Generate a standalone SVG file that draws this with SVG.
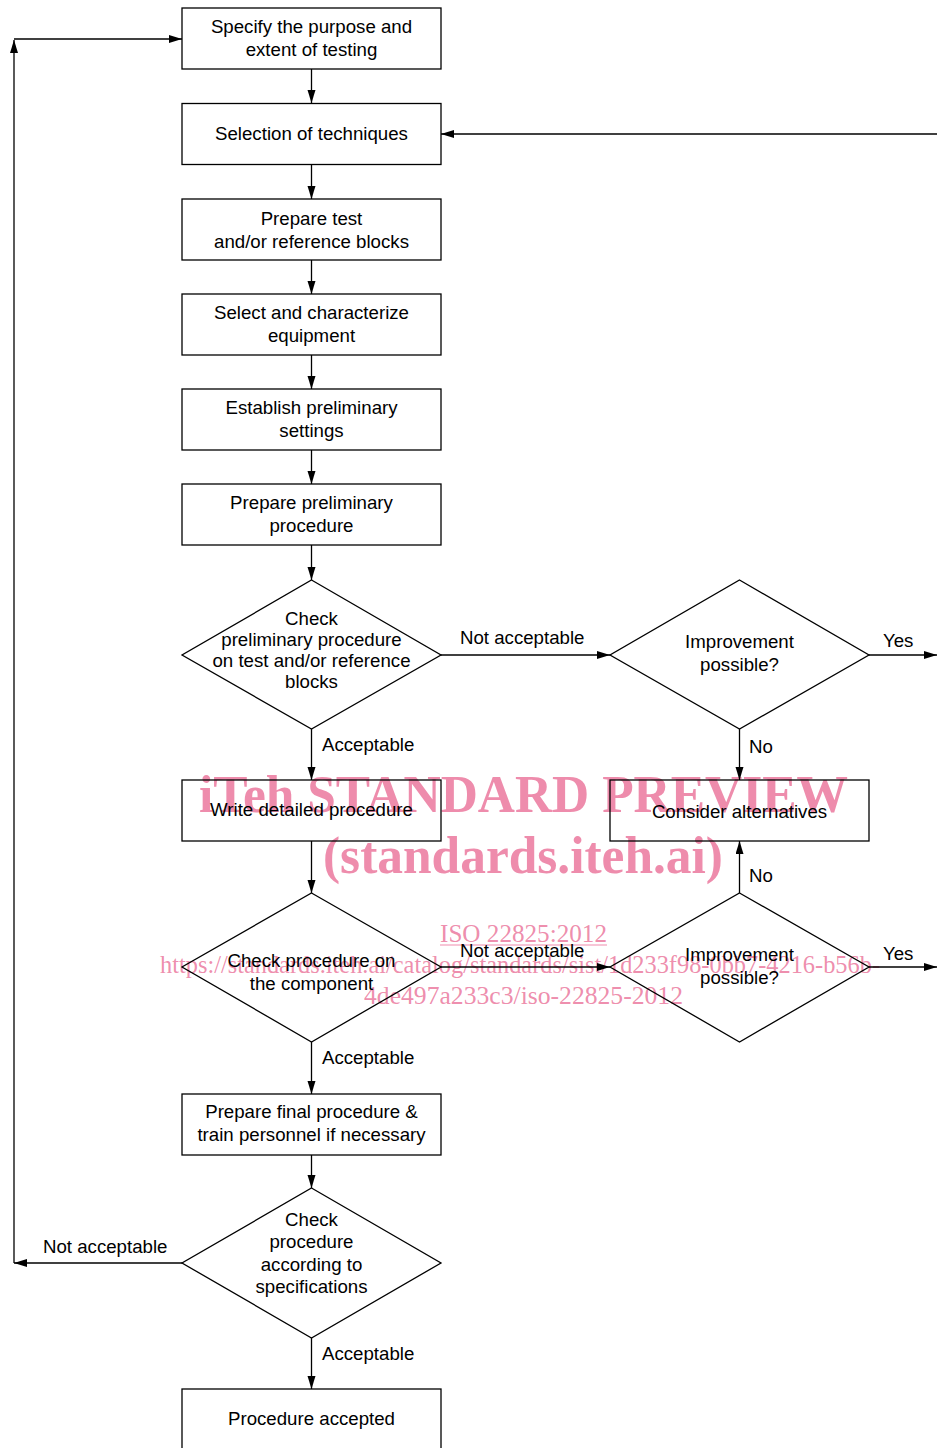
<svg xmlns="http://www.w3.org/2000/svg" width="937" height="1448" viewBox="0 0 937 1448">
<style>
.box{fill:none;stroke:#000;stroke-width:1.3}
.t{font-family:"Liberation Sans",Arial,sans-serif;font-size:18.67px;fill:#000;text-anchor:middle}
.l{font-family:"Liberation Sans",Arial,sans-serif;font-size:18.67px;fill:#000}
.c{fill:none;stroke:#000;stroke-width:1.3}
.wm{font-family:"Liberation Serif","Times New Roman",serif;fill:#ec7fa3;fill-opacity:0.9}
</style>
<defs>
<marker id="ah" markerUnits="userSpaceOnUse" markerWidth="14" markerHeight="9" refX="13" refY="4" orient="auto">
<path d="M0,0 L13,4 L0,8 z" fill="#000"/>
</marker>
</defs>
<rect width="937" height="1448" fill="#fff"/>
<g id="watermark">
<text class="wm" x="199" y="812" font-size="52" font-weight="bold" textLength="649" lengthAdjust="spacingAndGlyphs">iTeh STANDARD PREVIEW</text>
<text class="wm" x="323" y="873" font-size="52" font-weight="bold" textLength="400" lengthAdjust="spacingAndGlyphs">(standards.iteh.ai)</text>
<text class="wm" x="440" y="942" font-size="26" textLength="167" lengthAdjust="spacingAndGlyphs">ISO 22825:2012</text>
<line x1="440" y1="945" x2="607" y2="945" stroke="#ec7fa3" stroke-opacity="0.9" stroke-width="1.2"/>
<text class="wm" x="160" y="973" font-size="26" textLength="720" lengthAdjust="spacingAndGlyphs">https://standards.iteh.ai/catalog/standards/sist/1d233f98-0bb7-4216-b56b-</text>
<text class="wm" x="364" y="1004" font-size="26" textLength="319" lengthAdjust="spacingAndGlyphs">4de497a233c3/iso-22825-2012</text>
</g>
<g id="connectors">
<line class="c" x1="311.5" y1="69" x2="311.5" y2="103" marker-end="url(#ah)"/>
<line class="c" x1="311.5" y1="164" x2="311.5" y2="199" marker-end="url(#ah)"/>
<line class="c" x1="311.5" y1="260" x2="311.5" y2="294" marker-end="url(#ah)"/>
<line class="c" x1="311.5" y1="355" x2="311.5" y2="389" marker-end="url(#ah)"/>
<line class="c" x1="311.5" y1="450" x2="311.5" y2="484" marker-end="url(#ah)"/>
<line class="c" x1="311.5" y1="545" x2="311.5" y2="580" marker-end="url(#ah)"/>
<line class="c" x1="311.5" y1="729" x2="311.5" y2="780" marker-end="url(#ah)"/>
<line class="c" x1="311.5" y1="841" x2="311.5" y2="893" marker-end="url(#ah)"/>
<line class="c" x1="311.5" y1="1042" x2="311.5" y2="1094" marker-end="url(#ah)"/>
<line class="c" x1="311.5" y1="1155" x2="311.5" y2="1188" marker-end="url(#ah)"/>
<line class="c" x1="311.5" y1="1338" x2="311.5" y2="1389" marker-end="url(#ah)"/>
<line class="c" x1="441" y1="655" x2="610" y2="655" marker-end="url(#ah)"/>
<line class="c" x1="869" y1="655" x2="937" y2="655" marker-end="url(#ah)"/>
<line class="c" x1="739.5" y1="729" x2="739.5" y2="780" marker-end="url(#ah)"/>
<line class="c" x1="739.5" y1="893" x2="739.5" y2="841" marker-end="url(#ah)"/>
<line class="c" x1="441" y1="967" x2="610" y2="967" marker-end="url(#ah)"/>
<line class="c" x1="869" y1="967" x2="937" y2="967" marker-end="url(#ah)"/>
<line class="c" x1="182" y1="1263" x2="14" y2="1263" marker-end="url(#ah)"/>
<line class="c" x1="14" y1="1263" x2="14" y2="40" marker-end="url(#ah)"/>
<line class="c" x1="14" y1="39" x2="182" y2="39" marker-end="url(#ah)"/>
<line class="c" x1="937" y1="134" x2="441" y2="134" marker-end="url(#ah)"/>
<text class="l" x="460" y="644">Not acceptable</text>
<text class="l" x="883" y="647">Yes</text>
<text class="l" x="749" y="753">No</text>
<text class="l" x="322" y="751">Acceptable</text>
<text class="l" x="749" y="882">No</text>
<text class="l" x="460" y="957">Not acceptable</text>
<text class="l" x="883" y="960">Yes</text>
<text class="l" x="322" y="1064">Acceptable</text>
<text class="l" x="43" y="1253">Not acceptable</text>
<text class="l" x="322" y="1360">Acceptable</text>
</g>
<g id="n1"><rect class="box" x="182" y="8" width="259" height="61"/><text class="t" x="311.5" y="33">Specify the purpose and</text><text class="t" x="311.5" y="56">extent of testing</text></g>
<g id="n2"><rect class="box" x="182" y="103.5" width="259" height="61"/><text class="t" x="311.5" y="140">Selection of techniques</text></g>
<g id="n3"><rect class="box" x="182" y="199" width="259" height="61"/><text class="t" x="311.5" y="225">Prepare test</text><text class="t" x="311.5" y="248">and/or reference blocks</text></g>
<g id="n4"><rect class="box" x="182" y="294" width="259" height="61"/><text class="t" x="311.5" y="319">Select and characterize</text><text class="t" x="311.5" y="342">equipment</text></g>
<g id="n5"><rect class="box" x="182" y="389" width="259" height="61"/><text class="t" x="311.5" y="414">Establish preliminary</text><text class="t" x="311.5" y="437">settings</text></g>
<g id="n6"><rect class="box" x="182" y="484" width="259" height="61"/><text class="t" x="311.5" y="509">Prepare preliminary</text><text class="t" x="311.5" y="532">procedure</text></g>
<g id="d1"><polygon class="box" points="311.5,580 441,655 311.5,729 182,655"/><text class="t" x="311.5" y="625">Check</text><text class="t" x="311.5" y="646">preliminary procedure</text><text class="t" x="311.5" y="667">on test and/or reference</text><text class="t" x="311.5" y="688">blocks</text></g>
<g id="d2"><polygon class="box" points="739.5,580 869,655 739.5,729 610,655"/><text class="t" x="739.5" y="648">Improvement</text><text class="t" x="739.5" y="671">possible?</text></g>
<g id="n7"><rect class="box" x="182" y="780" width="259" height="61"/><text class="t" x="311.5" y="815.5">Write detailed procedure</text></g>
<g id="n8"><rect class="box" x="610" y="780" width="259" height="61"/><text class="t" x="739.5" y="817.5">Consider alternatives</text></g>
<g id="d3"><polygon class="box" points="311.5,893 441,967 311.5,1042 182,967"/><text class="t" x="311.5" y="967">Check procedure on</text><text class="t" x="311.5" y="990">the component</text></g>
<g id="d4"><polygon class="box" points="739.5,893 869,967 739.5,1042 610,967"/><text class="t" x="739.5" y="961">Improvement</text><text class="t" x="739.5" y="984">possible?</text></g>
<g id="n9"><rect class="box" x="182" y="1094" width="259" height="61"/><text class="t" x="311.5" y="1118">Prepare final procedure &amp;</text><text class="t" x="311.5" y="1141">train personnel if necessary</text></g>
<g id="d5"><polygon class="box" points="311.5,1188 441,1263 311.5,1338 182,1263"/><text class="t" x="311.5" y="1225.5">Check</text><text class="t" x="311.5" y="1248">procedure</text><text class="t" x="311.5" y="1270.5">according to</text><text class="t" x="311.5" y="1293">specifications</text></g>
<g id="n10"><rect class="box" x="182" y="1389" width="259" height="70"/><text class="t" x="311.5" y="1425">Procedure accepted</text></g>
</svg>
